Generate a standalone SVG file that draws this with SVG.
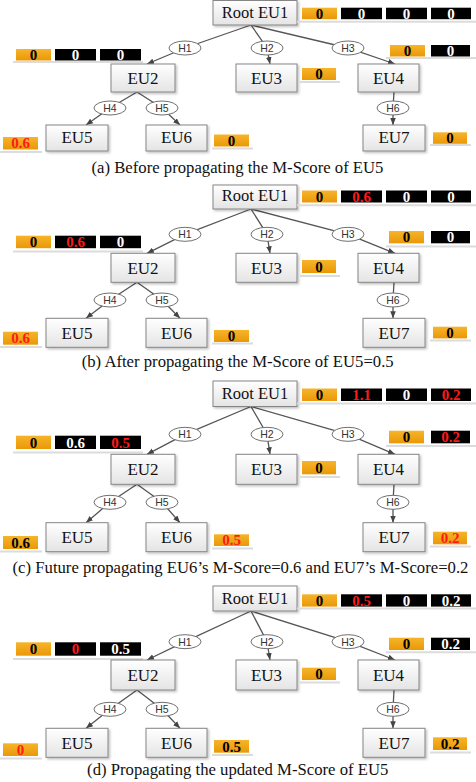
<svg xmlns="http://www.w3.org/2000/svg" width="476" height="782" viewBox="0 0 476 782">
<defs>
<linearGradient id="gb" x1="0" y1="0" x2="0" y2="1"><stop offset="0" stop-color="#ffffff"/><stop offset="1" stop-color="#e4e4e4"/></linearGradient>
<linearGradient id="go" x1="0" y1="0" x2="0" y2="1"><stop offset="0" stop-color="#f7b42a"/><stop offset="1" stop-color="#e99808"/></linearGradient>
<filter id="ds" x="-10%" y="-10%" width="130%" height="140%"><feDropShadow dx="1.5" dy="1.5" stdDeviation="1" flood-color="#000" flood-opacity="0.25"/></filter>
<marker id="ah" viewBox="0 0 10 10" refX="10" refY="5" markerWidth="7" markerHeight="7" markerUnits="userSpaceOnUse" orient="auto"><path d="M0,1 L10,5 L0,9 z" fill="#444"/></marker>
</defs>
<style>
.box{fill:url(#gb);stroke:#858585;stroke-width:1;filter:url(#ds)}
.nt{font-family:"Liberation Serif","Times New Roman",serif;font-size:17px;text-anchor:middle;fill:#111}
.rt{font-size:16.5px}
.ell{fill:#fff;stroke:#707070;stroke-width:1}
.ht{font-family:"Liberation Sans",Arial,sans-serif;font-size:10.5px;text-anchor:middle;fill:#333}
.or{fill:url(#go)}
.bk{fill:#000}
.st{font-family:"Liberation Serif","Times New Roman",serif;font-weight:bold;font-size:15px;text-anchor:middle}
.w{fill:#fff}.r{fill:#ff1a1a}.k{fill:#000}
.sh{stroke:#dcdcdc;stroke-width:2}
.edge{fill:none;stroke:#555;stroke-width:1.3;marker-end:url(#ah)}
.cap{font-family:"Liberation Serif","Times New Roman",serif;font-size:16.7px;text-anchor:middle;fill:#111}
</style>

<!-- ================= Panel (a) ================= -->
<g id="a-connectors">
<path class="edge" d="M251,25 L185,48 L147,64"/>
<path class="edge" d="M251,25 L267,48 L270,64"/>
<path class="edge" d="M251,25 L348,48 L395,64"/>
<path class="edge" d="M137,92 L110,108 L86,125"/>
<path class="edge" d="M137,92 L162,108 L180,125"/>
<path class="edge" d="M394,92 L393,108 L393,125"/>
<ellipse class="ell" cx="185" cy="48" rx="16" ry="7"/><text class="ht" x="185" y="51.8">H1</text>
<ellipse class="ell" cx="267" cy="48" rx="16" ry="7"/><text class="ht" x="267" y="51.8">H2</text>
<ellipse class="ell" cx="348" cy="48" rx="16" ry="7"/><text class="ht" x="348" y="51.8">H3</text>
<ellipse class="ell" cx="110" cy="108" rx="16" ry="7"/><text class="ht" x="110" y="111.8">H4</text>
<ellipse class="ell" cx="162" cy="108" rx="16" ry="7"/><text class="ht" x="162" y="111.8">H5</text>
<ellipse class="ell" cx="393" cy="108" rx="16" ry="7"/><text class="ht" x="393" y="111.8">H6</text>
</g>
<g id="a-root">
<rect class="box" x="213" y="0.5" width="84" height="24.5"/><text class="nt rt" x="255" y="17.5">Root EU1</text>
<line class="sh" x1="297" y1="21.7" x2="476" y2="21.7"/>
<rect class="or" x="302" y="7.7" width="35" height="11.5"/><text class="st k" x="319.5" y="18.6">0</text>
<rect class="bk" x="341" y="7.7" width="41" height="11.5"/><text class="st w" x="361.5" y="18.6">0</text>
<rect class="bk" x="386" y="7.7" width="41" height="11.5"/><text class="st w" x="406.5" y="18.6">0</text>
<rect class="bk" x="431" y="7.7" width="40" height="11.5"/><text class="st w" x="451" y="18.6">0</text>
</g>
<g id="a-eu2">
<line class="sh" x1="13" y1="62" x2="143" y2="62"/>
<rect class="or" x="16" y="49" width="35" height="11.5"/><text class="st k" x="33.5" y="59.9">0</text>
<rect class="bk" x="55" y="49" width="41" height="11.5"/><text class="st w" x="75.5" y="59.9">0</text>
<rect class="bk" x="100" y="49" width="41" height="11.5"/><text class="st w" x="120.5" y="59.9">0</text>
<rect class="box" x="111" y="64" width="64" height="28"/><text class="nt" x="143" y="83.6">EU2</text>
</g>
<g id="a-eu3">
<rect class="box" x="236" y="64" width="61" height="28"/><text class="nt" x="266.5" y="83.6">EU3</text>
<line class="sh" x1="300" y1="82" x2="340" y2="82"/>
<rect class="or" x="302" y="68" width="34" height="12"/><text class="st k" x="319" y="79.2">0</text>
</g>
<g id="a-eu4">
<line class="sh" x1="386" y1="58" x2="476" y2="58"/>
<rect class="or" x="390" y="45" width="35" height="11.5"/><text class="st k" x="407.5" y="55.9">0</text>
<rect class="bk" x="431" y="45" width="39" height="11.5"/><text class="st w" x="450.5" y="55.9">0</text>
<rect class="box" x="358" y="64" width="61" height="28"/><text class="nt" x="388.5" y="83.6">EU4</text>
</g>
<g id="a-eu5">
<line class="sh" x1="0" y1="152" x2="42" y2="152"/>
<rect class="or" x="3" y="137" width="35" height="12.5"/><text class="st r" x="20.5" y="148.4">0.6</text>
<rect class="box" x="46" y="125" width="62" height="26"/><text class="nt" x="77" y="143.4">EU5</text>
</g>
<g id="a-eu6">
<rect class="box" x="146" y="125" width="61" height="26"/><text class="nt" x="176.5" y="143.4">EU6</text>
<line class="sh" x1="212" y1="148.5" x2="253" y2="148.5"/>
<rect class="or" x="214" y="134.5" width="35" height="12"/><text class="st k" x="231.5" y="145.7">0</text>
</g>
<g id="a-eu7">
<rect class="box" x="363" y="125" width="62" height="26"/><text class="nt" x="394" y="143.4">EU7</text>
<line class="sh" x1="430" y1="145" x2="471" y2="145"/>
<rect class="or" x="433" y="132.3" width="34" height="11.5"/><text class="st k" x="450" y="143.2">0</text>
</g>
<text class="cap" x="237.5" y="173">(a) Before propagating the M-Score of EU5</text>

<!-- ================= Panel (b) ================= -->
<g id="b-connectors">
<path class="edge" d="M251,209 L185,234.3 L147,253.3"/>
<path class="edge" d="M251,209 L267,234.3 L270,253.3"/>
<path class="edge" d="M251,209 L348,234.3 L395,253.3"/>
<path class="edge" d="M137,282.3 L110,300 L86,318.3"/>
<path class="edge" d="M137,282.3 L162,300 L180,318.3"/>
<path class="edge" d="M394,282.3 L393,300 L393,318.3"/>
<ellipse class="ell" cx="185" cy="234.3" rx="16" ry="7"/><text class="ht" x="185" y="238.1">H1</text>
<ellipse class="ell" cx="267" cy="234.3" rx="16" ry="7"/><text class="ht" x="267" y="238.1">H2</text>
<ellipse class="ell" cx="348" cy="234.3" rx="16" ry="7"/><text class="ht" x="348" y="238.1">H3</text>
<ellipse class="ell" cx="110" cy="300" rx="16" ry="7"/><text class="ht" x="110" y="303.8">H4</text>
<ellipse class="ell" cx="162" cy="300" rx="16" ry="7"/><text class="ht" x="162" y="303.8">H5</text>
<ellipse class="ell" cx="393" cy="300" rx="16" ry="7"/><text class="ht" x="393" y="303.8">H6</text>
</g>
<g id="b-root">
<rect class="box" x="213" y="185" width="84" height="24"/><text class="nt rt" x="255" y="200.8">Root EU1</text>
<line class="sh" x1="297" y1="205.3" x2="476" y2="205.3"/>
<rect class="or" x="302" y="190.5" width="35" height="12"/><text class="st k" x="319.5" y="201.7">0</text>
<rect class="bk" x="341" y="190.5" width="41" height="12"/><text class="st r" x="361.5" y="201.7">0.6</text>
<rect class="bk" x="386" y="190.5" width="41" height="12"/><text class="st w" x="406.5" y="201.7">0</text>
<rect class="bk" x="431" y="190.5" width="40" height="12"/><text class="st w" x="451" y="201.7">0</text>
</g>
<g id="b-eu2">
<line class="sh" x1="13" y1="251.5" x2="143" y2="251.5"/>
<rect class="or" x="16" y="235.7" width="35" height="12.5"/><text class="st k" x="33.5" y="247.2">0</text>
<rect class="bk" x="55" y="235.7" width="41" height="12.5"/><text class="st r" x="75.5" y="247.2">0.6</text>
<rect class="bk" x="100" y="235.7" width="41" height="12.5"/><text class="st w" x="120.5" y="247.2">0</text>
<rect class="box" x="111" y="253.3" width="64" height="29"/><text class="nt" x="143" y="273.5">EU2</text>
</g>
<g id="b-eu3">
<rect class="box" x="236" y="253.3" width="61" height="29"/><text class="nt" x="266.5" y="273.5">EU3</text>
<line class="sh" x1="300" y1="276" x2="340" y2="276"/>
<rect class="or" x="302" y="260" width="34" height="13"/><text class="st k" x="319" y="271.7">0</text>
</g>
<g id="b-eu4">
<line class="sh" x1="386" y1="246.5" x2="476" y2="246.5"/>
<rect class="or" x="389" y="231" width="35" height="12.3"/><text class="st k" x="406.5" y="242.4">0</text>
<rect class="bk" x="431" y="231" width="39" height="12.3"/><text class="st w" x="450.5" y="242.4">0</text>
<rect class="box" x="358" y="253.3" width="61" height="29"/><text class="nt" x="388.5" y="273.5">EU4</text>
</g>
<g id="b-eu5">
<line class="sh" x1="0" y1="347" x2="42" y2="347"/>
<rect class="or" x="3" y="331.7" width="35" height="13"/><text class="st r" x="20.5" y="343.4">0.6</text>
<rect class="box" x="46" y="318.3" width="62" height="29"/><text class="nt" x="77" y="338.5">EU5</text>
</g>
<g id="b-eu6">
<rect class="box" x="146" y="318.3" width="61" height="29"/><text class="nt" x="176.5" y="338.5">EU6</text>
<line class="sh" x1="212" y1="343.5" x2="253" y2="343.5"/>
<rect class="or" x="214" y="330" width="35" height="12"/><text class="st k" x="231.5" y="341.2">0</text>
</g>
<g id="b-eu7">
<rect class="box" x="363" y="318.3" width="62" height="29"/><text class="nt" x="394" y="338.5">EU7</text>
<line class="sh" x1="430" y1="340.5" x2="471" y2="340.5"/>
<rect class="or" x="433" y="326.7" width="34" height="11.7"/><text class="st k" x="450" y="337.7">0</text>
</g>
<text class="cap" x="237.7" y="367.3">(b) After propagating the M-Score of EU5=0.5</text>

<!-- ================= Panel (c) ================= -->
<g id="c-connectors">
<path class="edge" d="M251,406.5 L185,434.3 L147,454.3"/>
<path class="edge" d="M251,406.5 L267,434.3 L270,454.3"/>
<path class="edge" d="M251,406.5 L348,434.3 L395,454.3"/>
<path class="edge" d="M137,484.3 L110,502.3 L86,522.7"/>
<path class="edge" d="M137,484.3 L162,502.3 L180,522.7"/>
<path class="edge" d="M394,484.3 L393,502.3 L393,522.7"/>
<ellipse class="ell" cx="185" cy="434.3" rx="16" ry="7"/><text class="ht" x="185" y="438.1">H1</text>
<ellipse class="ell" cx="267" cy="434.3" rx="16" ry="7"/><text class="ht" x="267" y="438.1">H2</text>
<ellipse class="ell" cx="348" cy="434.3" rx="16" ry="7"/><text class="ht" x="348" y="438.1">H3</text>
<ellipse class="ell" cx="110" cy="502.3" rx="16" ry="7"/><text class="ht" x="110" y="506.1">H4</text>
<ellipse class="ell" cx="162" cy="502.3" rx="16" ry="7"/><text class="ht" x="162" y="506.1">H5</text>
<ellipse class="ell" cx="393" cy="502.3" rx="16" ry="7"/><text class="ht" x="393" y="506.1">H6</text>
</g>
<g id="c-root">
<rect class="box" x="213" y="381" width="84" height="25.5"/><text class="nt rt" x="255" y="398.5">Root EU1</text>
<line class="sh" x1="297" y1="403.5" x2="476" y2="403.5"/>
<rect class="or" x="302" y="388.5" width="35" height="12.5"/><text class="st k" x="319.5" y="400">0</text>
<rect class="bk" x="341" y="388.5" width="41" height="12.5"/><text class="st r" x="361.5" y="400">1.1</text>
<rect class="bk" x="386" y="388.5" width="41" height="12.5"/><text class="st w" x="406.5" y="400">0</text>
<rect class="bk" x="431" y="388.5" width="40" height="12.5"/><text class="st r" x="451" y="400">0.2</text>
</g>
<g id="c-eu2">
<line class="sh" x1="13" y1="452.5" x2="143" y2="452.5"/>
<rect class="or" x="16" y="435.7" width="35" height="13.3"/><text class="st k" x="33.5" y="447.6">0</text>
<rect class="bk" x="55" y="435.7" width="41" height="13.3"/><text class="st w" x="75.5" y="447.6">0.6</text>
<rect class="bk" x="100" y="435.7" width="41" height="13.3"/><text class="st r" x="120.5" y="447.6">0.5</text>
<rect class="box" x="111" y="454.3" width="64" height="30"/><text class="nt" x="143" y="475">EU2</text>
</g>
<g id="c-eu3">
<rect class="box" x="236" y="454.3" width="61" height="30"/><text class="nt" x="266.5" y="475">EU3</text>
<line class="sh" x1="300" y1="477" x2="340" y2="477"/>
<rect class="or" x="302" y="461" width="34" height="13.3"/><text class="st k" x="319" y="472.9">0</text>
</g>
<g id="c-eu4">
<line class="sh" x1="386" y1="446" x2="476" y2="446"/>
<rect class="or" x="389" y="430.7" width="35" height="12.6"/><text class="st k" x="406.5" y="442.3">0</text>
<rect class="bk" x="431" y="430.7" width="39" height="12.6"/><text class="st r" x="450.5" y="442.3">0.2</text>
<rect class="box" x="358" y="454.3" width="61" height="30"/><text class="nt" x="388.5" y="475">EU4</text>
</g>
<g id="c-eu5">
<line class="sh" x1="0" y1="551.5" x2="42" y2="551.5"/>
<rect class="or" x="3" y="536" width="35" height="13"/><text class="st k" x="20.5" y="547.7">0.6</text>
<rect class="box" x="46" y="522.7" width="62" height="29"/><text class="nt" x="77" y="542.9">EU5</text>
</g>
<g id="c-eu6">
<rect class="box" x="146" y="522.7" width="61" height="29"/><text class="nt" x="176.5" y="542.9">EU6</text>
<line class="sh" x1="212" y1="548.5" x2="253" y2="548.5"/>
<rect class="or" x="214" y="534.3" width="35" height="11.7"/><text class="st r" x="231.5" y="545.3">0.5</text>
</g>
<g id="c-eu7">
<rect class="box" x="363" y="522.7" width="62" height="29"/><text class="nt" x="394" y="542.9">EU7</text>
<line class="sh" x1="430" y1="546.5" x2="471" y2="546.5"/>
<rect class="or" x="433" y="531.7" width="34" height="12.6"/><text class="st r" x="450" y="543.3">0.2</text>
</g>
<text class="cap" x="240.5" y="573.3">(c) Future propagating EU6’s M-Score=0.6 and EU7’s M-Score=0.2</text>

<!-- ================= Panel (d) ================= -->
<g id="d-connectors">
<path class="edge" d="M251,611 L185,641.7 L147,660"/>
<path class="edge" d="M251,611 L267,641.7 L270,660"/>
<path class="edge" d="M251,611 L348,641.7 L395,660"/>
<path class="edge" d="M137,690 L110,709.3 L86,728.3"/>
<path class="edge" d="M137,690 L162,709.3 L180,728.3"/>
<path class="edge" d="M394,690 L393,709.3 L393,728.3"/>
<ellipse class="ell" cx="185" cy="641.7" rx="16" ry="7"/><text class="ht" x="185" y="645.5">H1</text>
<ellipse class="ell" cx="267" cy="641.7" rx="16" ry="7"/><text class="ht" x="267" y="645.5">H2</text>
<ellipse class="ell" cx="348" cy="641.7" rx="16" ry="7"/><text class="ht" x="348" y="645.5">H3</text>
<ellipse class="ell" cx="110" cy="709.3" rx="16" ry="7"/><text class="ht" x="110" y="713.1">H4</text>
<ellipse class="ell" cx="162" cy="709.3" rx="16" ry="7"/><text class="ht" x="162" y="713.1">H5</text>
<ellipse class="ell" cx="393" cy="709.3" rx="16" ry="7"/><text class="ht" x="393" y="713.1">H6</text>
</g>
<g id="d-root">
<rect class="box" x="213" y="586" width="84" height="25"/><text class="nt rt" x="255" y="603.5">Root EU1</text>
<line class="sh" x1="297" y1="608.5" x2="476" y2="608.5"/>
<rect class="or" x="302" y="594.3" width="35" height="12.3"/><text class="st k" x="319.5" y="605.7">0</text>
<rect class="bk" x="341" y="594.3" width="41" height="12.3"/><text class="st r" x="361.5" y="605.7">0.5</text>
<rect class="bk" x="386" y="594.3" width="41" height="12.3"/><text class="st w" x="406.5" y="605.7">0</text>
<rect class="bk" x="431" y="594.3" width="40" height="12.3"/><text class="st w" x="451" y="605.7">0.2</text>
</g>
<g id="d-eu2">
<line class="sh" x1="13" y1="659" x2="143" y2="659"/>
<rect class="or" x="16" y="642.3" width="35" height="13.4"/><text class="st k" x="33.5" y="654.2">0</text>
<rect class="bk" x="55" y="642.3" width="41" height="13.4"/><text class="st r" x="75.5" y="654.2">0</text>
<rect class="bk" x="100" y="642.3" width="41" height="13.4"/><text class="st w" x="120.5" y="654.2">0.5</text>
<rect class="box" x="111" y="660" width="64" height="30"/><text class="nt" x="143" y="680.7">EU2</text>
</g>
<g id="d-eu3">
<rect class="box" x="236" y="660" width="61" height="30"/><text class="nt" x="266.5" y="680.7">EU3</text>
<line class="sh" x1="300" y1="682.5" x2="340" y2="682.5"/>
<rect class="or" x="302" y="667.7" width="34" height="12.3"/><text class="st k" x="319" y="679.1">0</text>
</g>
<g id="d-eu4">
<line class="sh" x1="386" y1="652.3" x2="476" y2="652.3"/>
<rect class="or" x="389" y="637.7" width="35" height="12.3"/><text class="st k" x="406.5" y="649.1">0</text>
<rect class="bk" x="431" y="637.7" width="39" height="12.3"/><text class="st w" x="450.5" y="649.1">0.2</text>
<rect class="box" x="358" y="660" width="61" height="30"/><text class="nt" x="388.5" y="680.7">EU4</text>
</g>
<g id="d-eu5">
<line class="sh" x1="0" y1="758.5" x2="42" y2="758.5"/>
<rect class="or" x="3" y="743.3" width="35" height="12.7"/><text class="st r" x="20.5" y="754.9">0</text>
<rect class="box" x="46" y="728.3" width="62" height="29"/><text class="nt" x="77" y="748.5">EU5</text>
</g>
<g id="d-eu6">
<rect class="box" x="146" y="728.3" width="61" height="29"/><text class="nt" x="176.5" y="748.5">EU6</text>
<line class="sh" x1="212" y1="755" x2="253" y2="755"/>
<rect class="or" x="214" y="740" width="35" height="12.7"/><text class="st k" x="231.5" y="751.6">0.5</text>
</g>
<g id="d-eu7">
<rect class="box" x="363" y="728.3" width="62" height="29"/><text class="nt" x="394" y="748.5">EU7</text>
<line class="sh" x1="430" y1="752.5" x2="471" y2="752.5"/>
<rect class="or" x="433" y="737.3" width="34" height="12.7"/><text class="st k" x="450" y="748.9">0.2</text>
</g>
<text class="cap" x="237.7" y="775">(d) Propagating the updated M-Score of EU5</text>
</svg>
